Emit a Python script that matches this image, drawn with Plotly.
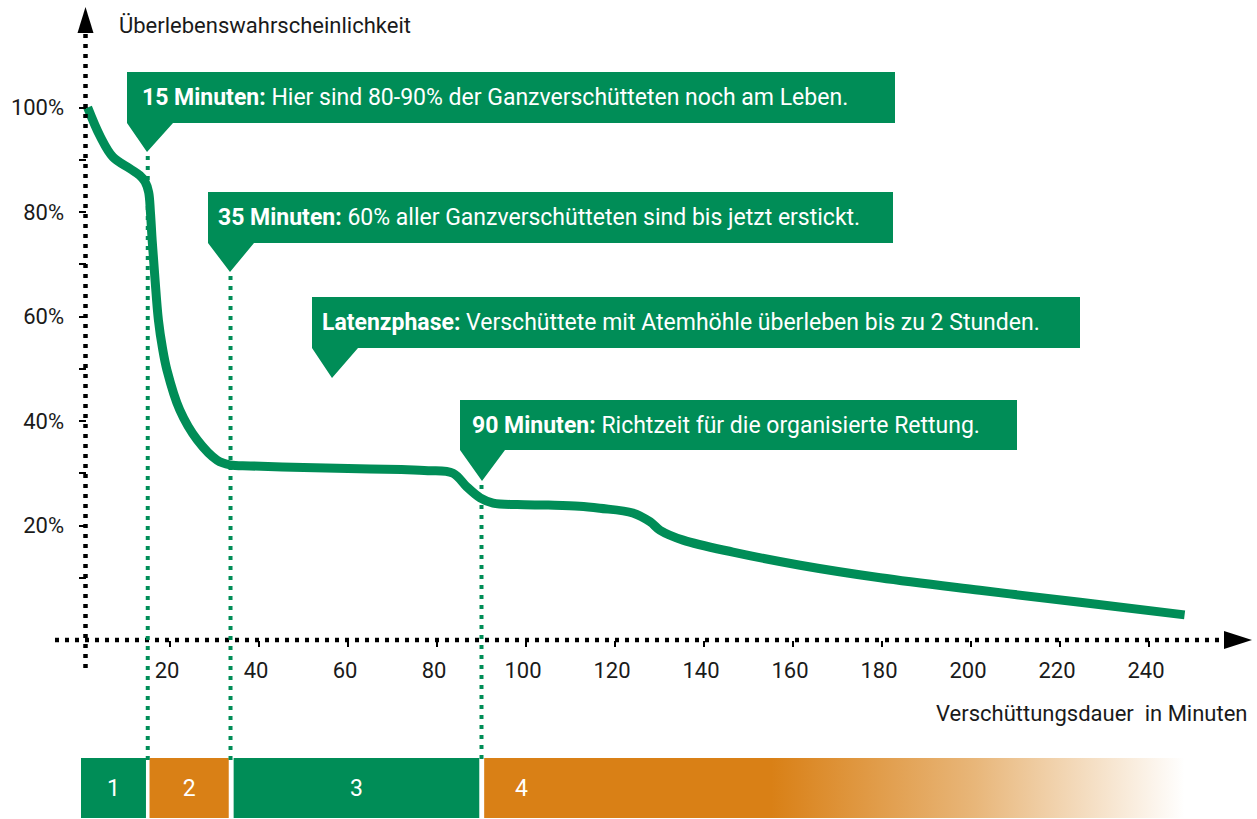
import plotly.graph_objects as go

# ---------------- data ----------------
minutes = [1.5, 4.3, 7.2, 11.0, 13.2, 14.4, 15.2, 15.6, 16.0, 16.6, 17.4, 18.3, 19.3, 22.2, 26.1, 30.6,
           33.5, 38, 50, 60, 72, 78, 83.6, 86.7, 89.7, 92.6, 98, 105, 112, 116.6, 124.0, 127.9, 130.1,
           135.3, 146.5, 161.6, 179.6, 202, 224.5, 248]
survival = [100, 94.5, 90.5, 88.3, 87.0, 85.8, 83.8, 80.0, 74.5, 67.5, 59.3, 54.0, 49.8, 42.1, 36.4, 32.5,
            31.6, 31.4, 31.1, 30.9, 30.7, 30.5, 30.0, 27.4, 25.3, 24.3, 24.0, 23.9, 23.7, 23.3, 22.4, 20.7,
            19.1, 17.2, 14.9, 12.4, 10.0, 7.6, 5.3, 2.9]

x_tickvals = [20, 40, 60, 80, 100, 120, 140, 160, 180, 200, 220, 240]
y_tickvals = [10, 20, 30, 40, 50, 60, 70, 80, 90, 100]
y_ticktext = ["", "20%", "", "40%", "", "60%", "", "80%", "", "100%"]

phase_labels = ["1", "2", "3", "4"]
phase_start = [0, 15.4, 34.3, 90.6]
phase_end = [14.6, 33.2, 89.5, 248]
phase_label_x = [7.3, 24.3, 61.9, 99]
marker_minutes = [15, 33.6, 90]

callout_texts = [
    "<b>15 Minuten:</b> Hier sind 80-90% der Ganzverschütteten noch am Leben.",
    "<b>35 Minuten:</b> 60% aller Ganzverschütteten sind bis jetzt erstickt.",
    "<b>Latenzphase:</b> Verschüttete mit Atemhöhle überleben bis zu 2 Stunden.",
    "<b>90 Minuten:</b> Richtzeit für die organisierte Rettung.",
]

y_title = "Überlebenswahrscheinlichkeit"
x_title = "Verschüttungsdauer  in Minuten"

# ---------------- style / layout constants ----------------
W, H = 1257, 819
GREEN = "#008d57"
ORANGE = "#d98016"
TEXT = "#1a1a1a"
FONT = "Roboto, sans-serif"
X0_PX, PX_PER_MIN = 81, 4.45
Y0_PX, PX_PER_PCT = 630, 5.225
XAXIS_PX, YAXIS_PX = 640, 85.5
BAR_TOP_PX, BAR_BOT_PX = 758, 818

def px(x):
    return x / W

def py(y):
    return 1 - y / H

def pct(ypx):
    return (Y0_PX - ypx) / PX_PER_PCT

x_range = [-X0_PX / PX_PER_MIN, (W - X0_PX) / PX_PER_MIN]
y_range = [pct(H), pct(0)]

fig = go.Figure()

# phase bar
phase_colors = [GREEN, ORANGE, GREEN, ORANGE]
bar_top, bar_bot = pct(BAR_TOP_PX), pct(BAR_BOT_PX)
for i, (s, e) in enumerate(zip(phase_start, phase_end)):
    kw = dict(fillcolor=phase_colors[i])
    if i == 3:
        kw = dict(fillgradient=dict(type="horizontal",
                                    colorscale=[[0, ORANGE], [0.41, ORANGE], [0.7, "#e8b679"], [1, "#ffffff"]]))
    fig.add_trace(go.Scatter(x=[s, e, e, s, s], y=[bar_top, bar_top, bar_bot, bar_bot, bar_top],
                             mode="lines", fill="toself", line=dict(width=0),
                             hoverinfo="skip", showlegend=False, **kw))
fig.add_trace(go.Scatter(x=phase_label_x, y=[pct(790)] * 4, mode="text", text=phase_labels,
                         textfont=dict(family=FONT, size=23, color="white"),
                         hoverinfo="skip", showlegend=False))

# curve
fig.add_trace(go.Scatter(x=minutes, y=survival, mode="lines",
                         line=dict(color=GREEN, width=9, shape="spline", smoothing=1.0),
                         hoverinfo="skip", showlegend=False))

shapes = []
# axes (dotted) + arrows
shapes.append(dict(type="line", xref="paper", yref="paper", x0=px(YAXIS_PX), x1=px(YAXIS_PX),
                   y0=py(34), y1=py(668), line=dict(color="black", width=4.5, dash="4px,6px")))
shapes.append(dict(type="line", xref="paper", yref="paper", x0=px(55), x1=px(1228),
                   y0=py(XAXIS_PX), y1=py(XAXIS_PX), line=dict(color="black", width=4.5, dash="4px,6px")))
shapes.append(dict(type="path", xref="paper", yref="paper",
                   path=f"M{px(YAXIS_PX-8)},{py(33)} L{px(YAXIS_PX+8)},{py(33)} L{px(YAXIS_PX)},{py(7)} Z",
                   fillcolor="black", line=dict(width=0)))
shapes.append(dict(type="path", xref="paper", yref="paper",
                   path=f"M{px(1224)},{py(XAXIS_PX-9)} L{px(1224)},{py(XAXIS_PX+9)} L{px(1252)},{py(XAXIS_PX)} Z",
                   fillcolor="black", line=dict(width=0)))

# callouts: L, R, T, B, tri_right, apex_x, apex_y, text_x
callout_geo = [
    (127, 895, 72, 123, 173, 147, 152, 140),
    (208, 893, 192, 243, 254, 230, 272, 216),
    (312, 1080, 297, 348, 358, 332, 378, 320),
    (460, 1017, 400, 450, 505, 482, 481, 470),
]
for (L, R, T, B, tr, ax, ay, tx), txt in zip(callout_geo, callout_texts):
    path = (f"M{px(L)},{py(T)} L{px(R)},{py(T)} L{px(R)},{py(B)} L{px(tr)},{py(B)} "
            f"L{px(ax)},{py(ay)} L{px(L)},{py(B)} Z")
    shapes.append(dict(type="path", xref="paper", yref="paper", path=path,
                       fillcolor=GREEN, line=dict(width=0), layer="above"))

# vertical marker lines
apex_y = [152, 272, 481]
for m, ay in zip(marker_minutes, apex_y):
    shapes.append(dict(type="line", xref="x", yref="paper", x0=m, x1=m, y0=py(ay + 4), y1=py(760),
                       line=dict(color=GREEN, width=4, dash="4px,6px"), layer="above"))

annotations = []
for (L, R, T, B, tr, ax, ay, tx), txt in zip(callout_geo, callout_texts):
    annotations.append(dict(xref="paper", yref="paper", x=px(tx), y=py((T + B) / 2),
                            xanchor="left", yanchor="middle", showarrow=False, text=txt,
                            font=dict(family=FONT, size=23, color="white")))
annotations.append(dict(xref="paper", yref="paper", x=px(117), y=py(25), xanchor="left", yanchor="middle",
                        showarrow=False, text=y_title, font=dict(family=FONT, size=22, color=TEXT)))
annotations.append(dict(xref="paper", yref="paper", x=px(1250), y=py(713), xanchor="right", yanchor="middle",
                        showarrow=False, text=x_title, font=dict(family=FONT, size=22, color=TEXT)))

fig.update_layout(
    width=W, height=H, margin=dict(l=0, r=0, t=0, b=0, pad=0),
    paper_bgcolor="white", plot_bgcolor="white",
    shapes=shapes, annotations=annotations,
    xaxis=dict(range=x_range, domain=[0, 1], anchor="free", position=py(XAXIS_PX),
               showgrid=False, zeroline=False, showline=False,
               tickvals=x_tickvals, ticks="outside", ticklen=6, tickwidth=2, tickcolor="black",
               tickfont=dict(family=FONT, size=22, color=TEXT), ticklabelstandoff=5,
               ticklabelshift=-3),
    yaxis=dict(range=y_range, domain=[0, 1], anchor="free", position=px(YAXIS_PX),
               showgrid=False, zeroline=False, showline=False,
               tickvals=y_tickvals, ticktext=y_ticktext, ticks="outside", ticklen=7, tickwidth=2,
               tickcolor="black", tickfont=dict(family=FONT, size=22, color=TEXT),
               ticklabelstandoff=10),
    showlegend=False,
)

fig.write_html("out.html", config={"displayModeBar": False},
               post_script="document.body.style.margin='0';document.body.style.overflow='hidden';")
